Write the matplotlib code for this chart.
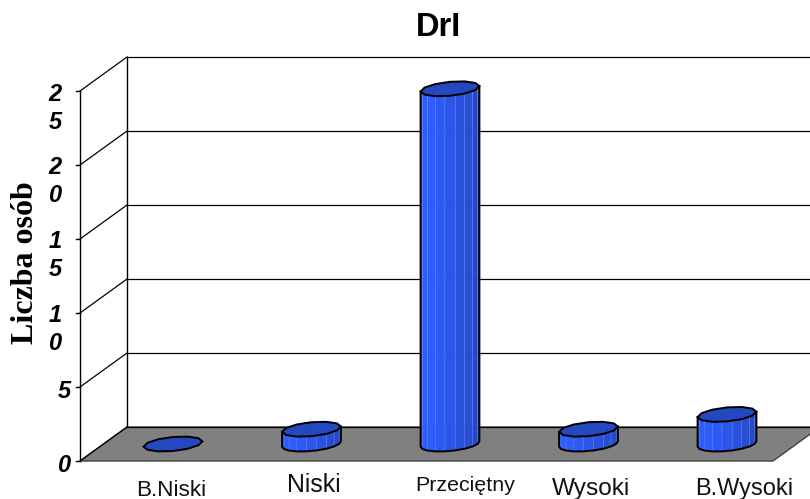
import numpy as np
import matplotlib
matplotlib.use('Agg')
import matplotlib.pyplot as plt
from matplotlib.patches import Rectangle

categories = ['B.Niski', 'Niski', 'Przeciętny', 'Wysoki', 'B.Wysoki']
values = [0, 1, 24, 1, 2]
yticks = [0, 5, 10, 15, 20, 25]
title = 'DrI'
ylabel = 'Liczba osób'

# pixel geometry of the fake 3d box
X0, Y0 = 80, 461
DX, DY = 47, -34
UNIT = 14.8
X_RIGHT = 773
CX0, CSTEP = 173, 138.5
R_A, R_B, R_C = 27.5, 10.4, 7.5

label_x = [171, 314, 465, 591, 744]
label_y = [490, 485.5, 485.5, 489.5, 488.5]
label_size = [16.2, 17.9, 15.4, 17.6, 17.0]

plt.rcParams['font.family'] = ['Liberation Sans', 'DejaVu Sans']


def ring(cx, cy, t):
    return cx + R_A * np.cos(t) + R_B * np.sin(t), cy - R_C * np.sin(t)


def draw_bar(ax, cx, val):
    base = Y0 + DY / 2
    top = base - val * UNIT
    t_start = np.arctan2(R_B, R_A)  # silhouette right
    angles = np.linspace(t_start, t_start - np.pi, 10)
    if val > 0:
        cols = ['#2545b8', '#2749c4', '#294ed2', '#2b52de', '#2c56ea',
                '#2d5af5', '#2e5dff', '#2e5dff', '#2b58f0']
        for i in range(len(angles) - 1):
            a = angles[i:i + 2]
            xb, yb = ring(cx, base, a)
            xt, yt = ring(cx, top, a)
            ax.fill([xb[0], xb[1], xt[1], xt[0]], [yb[0], yb[1], yt[1], yt[0]],
                    fc=cols[i], ec='#5f83f5', lw=0.3, zorder=3)
        xb, yb = ring(cx, base, angles)
        xt, yt = ring(cx, top, angles)
        ax.plot(np.r_[xt[0], xb, xt[-1]], np.r_[yt[0], yb, yt[-1]],
                color='k', lw=1.4, zorder=4)
    tt = np.linspace(0, 2 * np.pi, 13) + t_start
    xt, yt = ring(cx, top, tt)
    ax.fill(xt, yt, fc='#2448c0', ec='k', lw=1.4, zorder=5)


def plot_chart():
    fig = plt.figure(figsize=(8.1, 4.99), dpi=100)
    ax = fig.add_axes([0, 0, 1, 1])
    ax.set_xlim(0, 810)
    ax.set_ylim(499, 0)
    ax.axis('off')

    xb = X0 + DX
    yb = Y0 + DY
    ax.fill([X0, X_RIGHT, X_RIGHT + DX, xb], [Y0, Y0, yb, yb],
            fc='#808080', ec='#404040', lw=1, zorder=1)

    for v in yticks:
        y = Y0 - v * UNIT
        ax.plot([X0, xb], [y, y + DY], color='k', lw=0.9, zorder=2)
        ax.plot([xb, 810], [y + DY, y + DY], color='k', lw=0.9, zorder=2)
        ax.plot([X0 - 4, X0], [y, y], color='k', lw=1, zorder=2)
    ytop = Y0 - yticks[-1] * UNIT
    ax.plot([X0, X0], [Y0, ytop], color='k', lw=1, zorder=2)
    ax.plot([xb, xb], [yb, ytop + DY], color='k', lw=1, zorder=2)

    # tick labels wrap digit by digit and get cut off, like in the original
    for v in yticks:
        y = Y0 - v * UNIT
        s = str(v)
        if len(s) == 1:
            tx = ax.text(64, y + 4, s, ha='center', va='center',
                         fontsize=17, fontweight='bold', style='italic')
            if v == 0:
                tx.set_clip_path(Rectangle((50, y - 15), 20, 30, transform=ax.transData))
        else:
            ax.text(55, y + 3, s[0], ha='center', va='center', fontsize=17,
                    fontweight='bold', style='italic')
            tx = ax.text(55, y + 31, s[1], ha='center', va='center', fontsize=17,
                         fontweight='bold', style='italic')
            tx.set_clip_path(Rectangle((40, y + 15), 30, 20, transform=ax.transData))

    for i, v in enumerate(values):
        draw_bar(ax, CX0 + i * CSTEP, v)

    for name, x, y, fs in zip(categories, label_x, label_y, label_size):
        ax.text(x, y, name, ha='center', va='center', fontsize=fs, color='#111111')

    ax.text(438, 27, title, ha='center', va='center', fontsize=23.5, fontweight='bold')
    ax.text(26, 263, ylabel, ha='center', va='center', rotation=90, fontsize=23,
            fontweight='bold', family=['Liberation Serif', 'DejaVu Serif'])

    fig.savefig('out.png', dpi=100)


if __name__ == '__main__':
    plot_chart()
